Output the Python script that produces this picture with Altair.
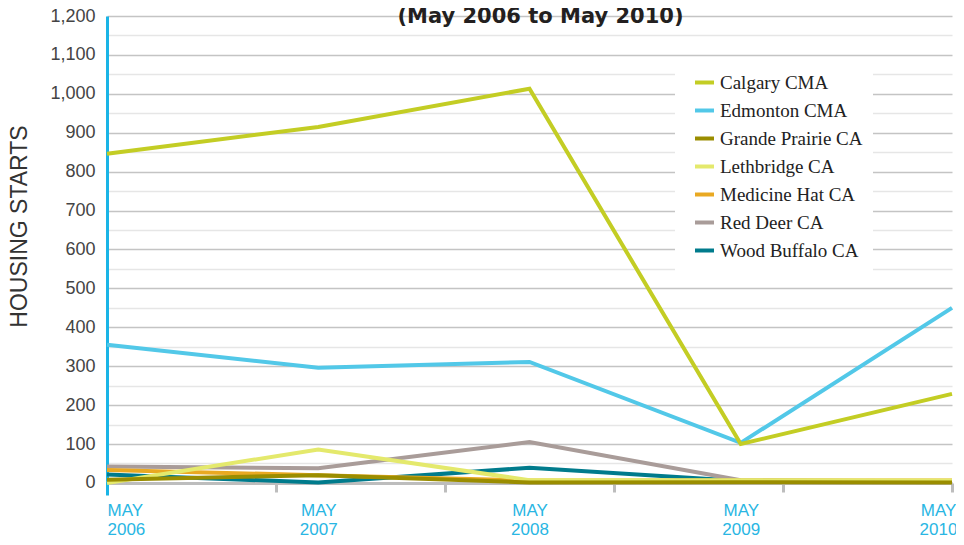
import altair as alt
import pandas as pd

# ---- data ----
series = ["Calgary CMA", "Edmonton CMA", "Grande Prairie CA", "Lethbridge CA",
          "Medicine Hat CA", "Red Deer CA", "Wood Buffalo CA"]
colors = ["#c3cd24", "#52c8e8", "#9a8d00", "#e4e96c", "#e9a922", "#a99c99", "#007b8c"]
years = ["2006", "2007", "2008", "2009", "2010"]
month = "MAY"

calgary = [846, 915, 1013, 100, 229]
edmonton = [355, 296, 311, 103, 450]
grande_prairie = [8, 20, 1, 2, 1]
lethbridge = [0, 86, 7, 7, 6]
medicine_hat = [33, 20, 6, 6, 6]
red_deer = [42, 38, 105, 7, 3]
wood_buffalo = [22, 1, 39, 5, 3]

values = [calgary, edmonton, grande_prairie, lethbridge, medicine_hat, red_deer, wood_buffalo]

rows = []
# reversed so that the first series is drawn last (on top)
for name, vals in reversed(list(zip(series, values))):
    for i, v in enumerate(vals):
        rows.append({"series": name, "idx": i, "year": years[i], "value": v})
df = pd.DataFrame(rows)

tick_positions = [0, 0.8, 1.6, 2.4, 3.2, 4]

y_enc = alt.Y(
    "value:Q",
    scale=alt.Scale(domain=[-31, 1200], nice=False, zero=False),
    axis=alt.Axis(
        values=list(range(0, 1201, 50)),
        labelExpr="datum.value % 100 === 0 ? format(datum.value, ',') : ''",
        labelOverlap=False,
        labelFont="Liberation Sans",
        labelFontSize=18,
        labelColor="#444444",
        labelPadding=12,
        ticks=False,
        domainColor="#1ab4e6",
        domainWidth=3,
        grid=True,
        gridColor={"condition": {"test": "datum.value % 100 === 0", "value": "#c4c4c4"},
                   "value": "#e6e6e6"},
        gridWidth=1.5,
        title="HOUSING STARTS",
        titleFont="Liberation Sans",
        titleFontSize=23,
        titleFontWeight="normal",
        titleColor="#333333",
        titleAngle=270,
        titleAlign="center",
        titleBaseline="middle",
        titleX=-88,
        titleY=210,
    ),
)

lines = alt.Chart(df).mark_line(strokeWidth=4).encode(
    x=alt.X(
        "idx:Q",
        scale=alt.Scale(domain=[0, 4], nice=False, zero=False),
        axis=alt.Axis(
            orient="bottom",
            values=tick_positions,
            labels=False,
            title=None,
            grid=False,
            domainColor="#bdbdbd",
            domainWidth=3,
            tickColor="#bdbdbd",
            tickWidth=3,
            tickSize=9,
            offset=-12,
        ),
    ),
    y=y_enc,
    color=alt.Color(
        "series:N",
        scale=alt.Scale(domain=series, range=colors),
        legend=alt.Legend(
            title=None,
            orient="none",
            legendX=568,
            legendY=45,
            fillColor="white",
            padding=10,
            labelFont="Liberation Serif",
            labelFontSize=19,
            labelColor="#222222",
            symbolType="stroke",
            symbolStrokeWidth=4,
            symbolSize=361,
            symbolOffset=8,
            rowPadding=6,
            labelOffset=4,
        ),
    ),
)

year_array = "[" + ",".join("'" + y + "'" for y in years) + "]"
label_layer = alt.Chart(df).mark_line(opacity=0).encode(
    x=alt.X(
        "idx:Q",
        scale=alt.Scale(domain=[0, 4], nice=False, zero=False),
        axis=alt.Axis(
            orient="bottom",
            values=[0, 1, 2, 3, 4],
            labelExpr="['" + month + "', " + year_array + "[datum.value]]",
            labelAlign={"condition": {"test": "datum.value === 0", "value": "left"}, "value": "center"},
            labelOffset={"condition": {"test": "datum.value === 4", "value": -14}, "value": 0},
            labelBaseline="top",
            labelFont="Liberation Sans",
            labelFontSize=17,
            labelLineHeight=19,
            labelColor="#29b6e3",
            labelPadding=7,
            labelOverlap=False,
            labelBound=False,
            ticks=False,
            tickSize=0,
            domain=False,
            grid=False,
            title=None,
        ),
    ),
    y=y_enc,
    detail="series:N",
)

chart = alt.layer(lines, label_layer).resolve_scale(x="independent").properties(
    width=845,
    height=479,
    autosize=alt.AutoSizeParams(type="none"),
    padding={"left": 99, "top": 8, "right": 4, "bottom": 42},
    title=alt.TitleParams(
        "(May 2006 to May 2010)",
        font="DejaVu Sans",
        fontSize=21,
        fontWeight="bold",
        color="#231f20",
        anchor="middle",
        dx=11,
        dy=24,
    ),
).configure_view(stroke=None)

chart.save("out.html", embed_options={"renderer": "svg", "actions": False})
